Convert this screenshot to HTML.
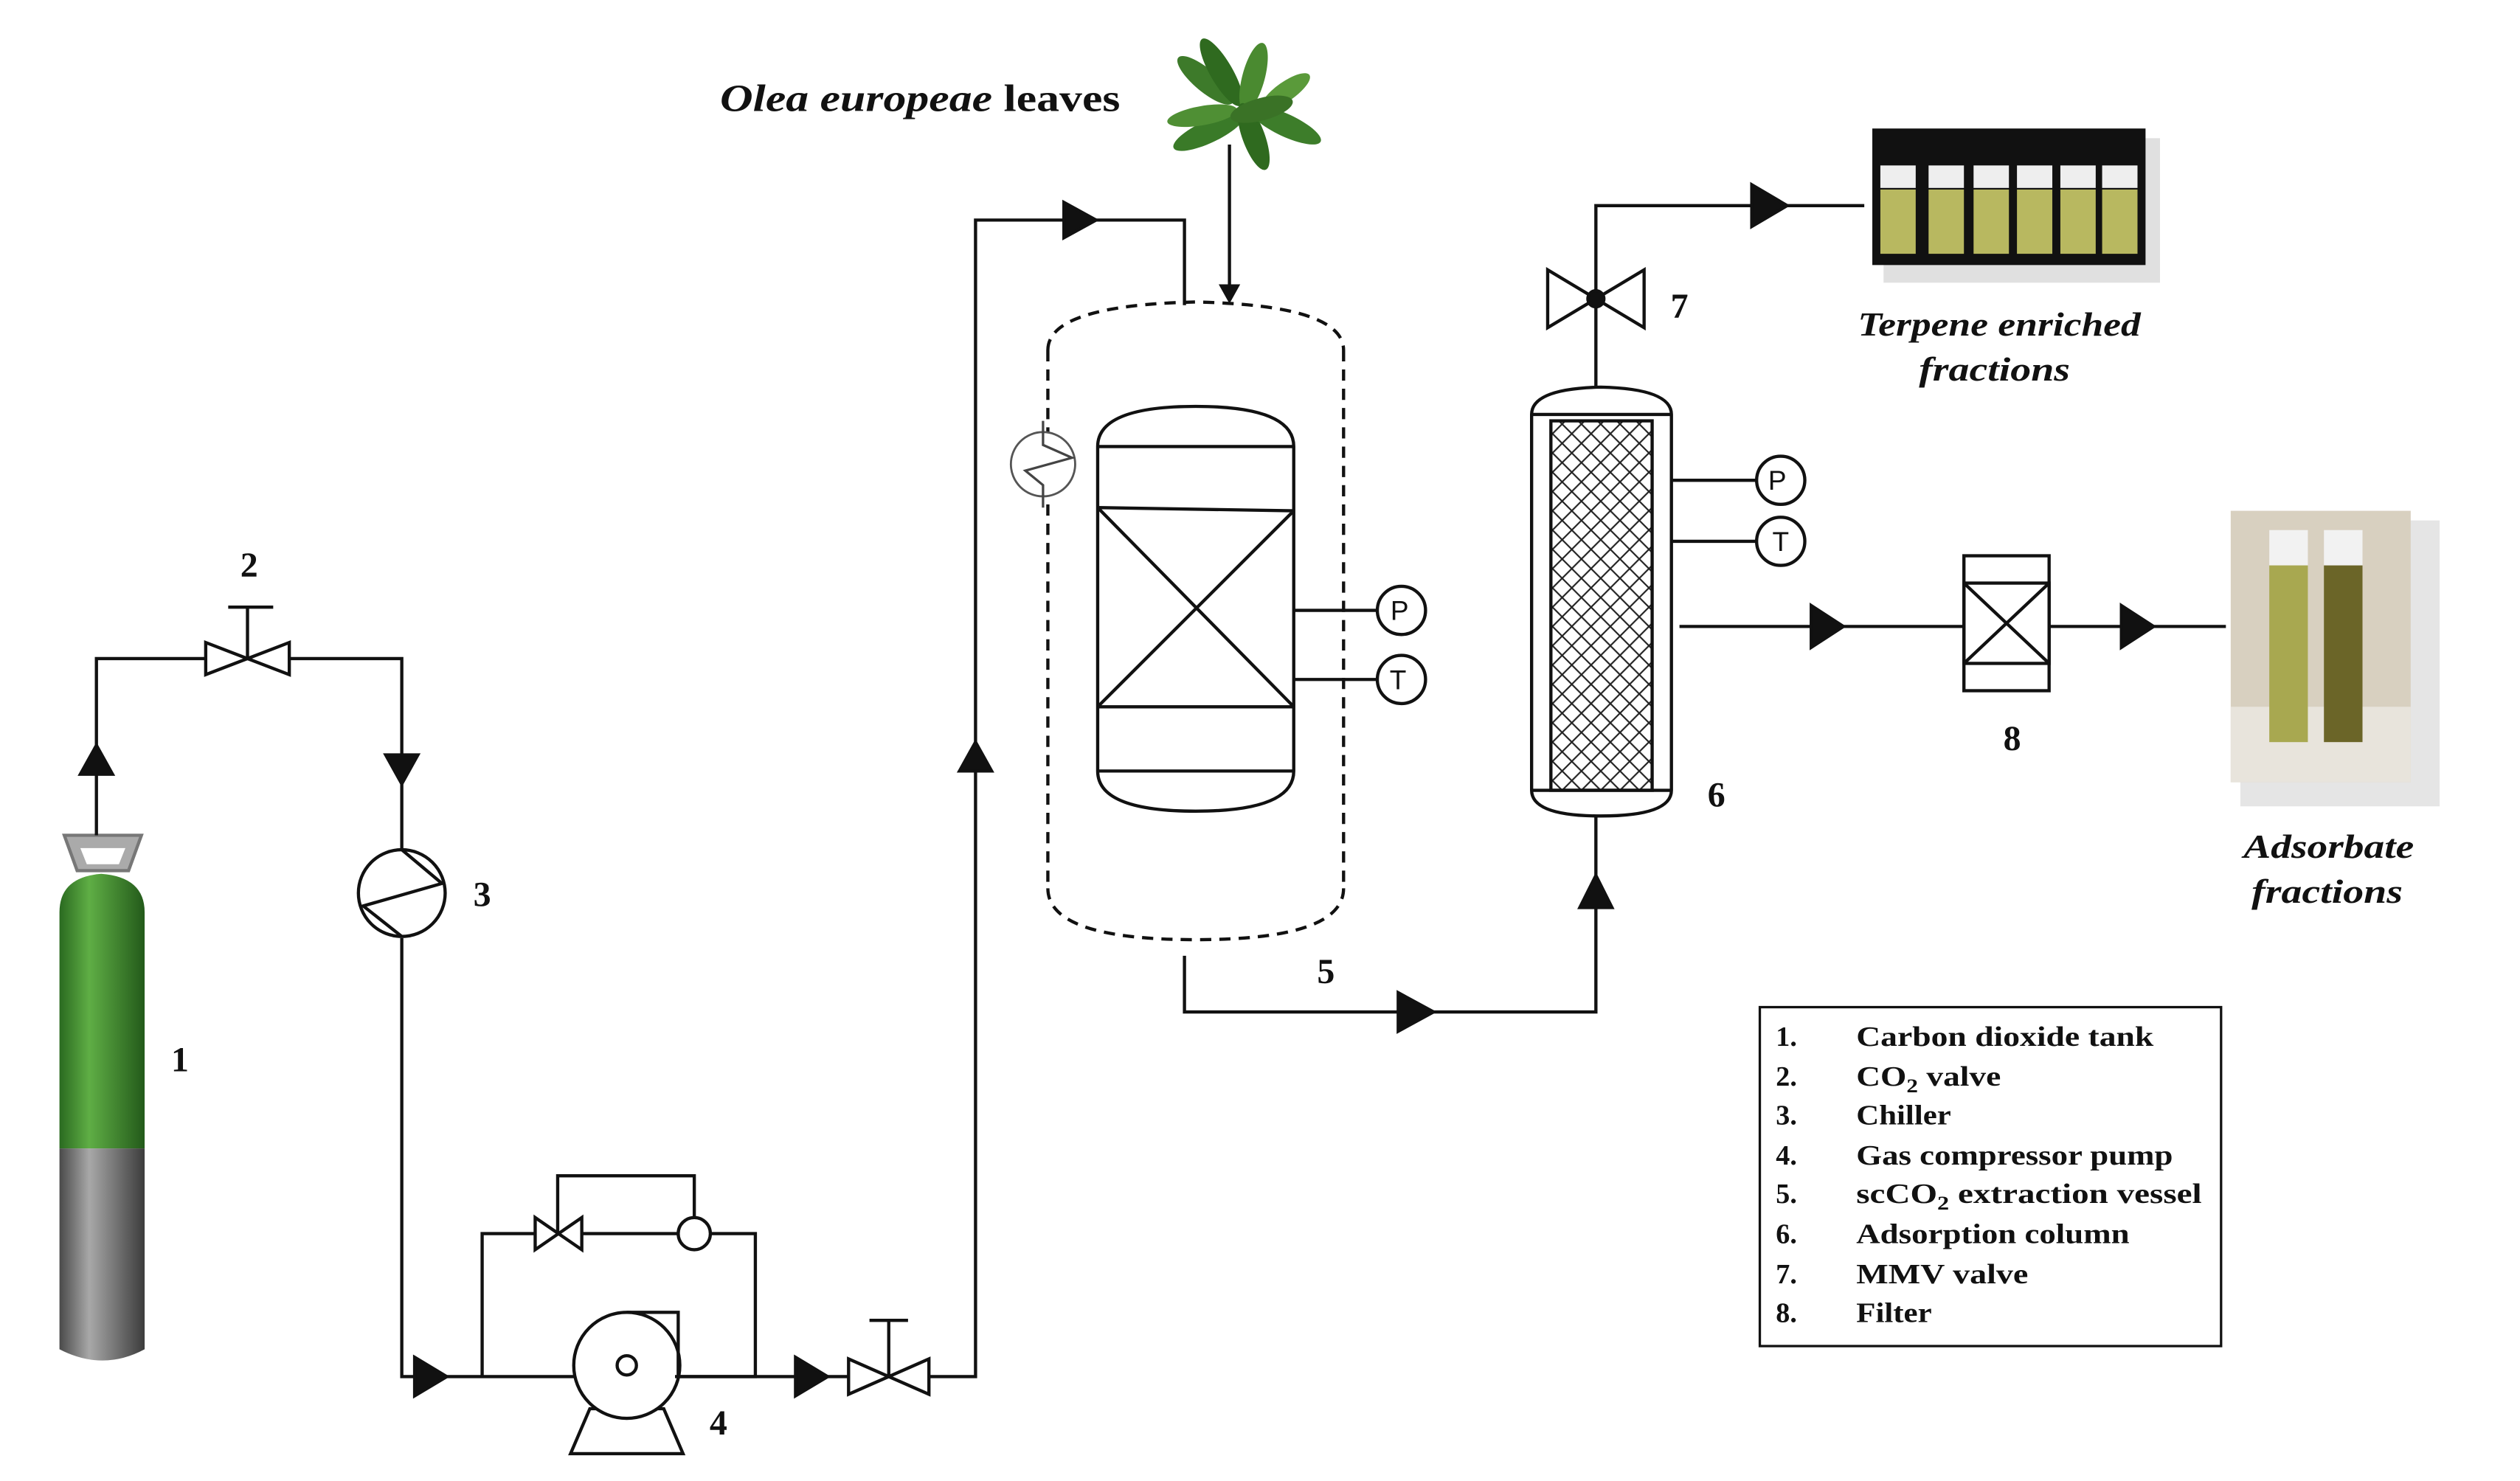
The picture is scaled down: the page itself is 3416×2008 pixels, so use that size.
<!DOCTYPE html>
<html><head><meta charset="utf-8"><style>
html,body{margin:0;padding:0;background:#fff}
svg{display:block}
text{font-family:"Liberation Serif",serif;font-weight:bold;fill:#111}
</style></head><body>
<svg width="3416" height="2008" viewBox="0 0 1568 922" preserveAspectRatio="none" xmlns="http://www.w3.org/2000/svg">
<defs>
<linearGradient id="gr" x1="0" x2="1"><stop offset="0" stop-color="#2a6a20"/><stop offset="0.35" stop-color="#5fae45"/><stop offset="1" stop-color="#235a1a"/></linearGradient>
<linearGradient id="gy" x1="0" x2="1"><stop offset="0" stop-color="#4a4a4a"/><stop offset="0.35" stop-color="#a8a8a8"/><stop offset="1" stop-color="#3c3c3c"/></linearGradient>
<pattern id="hatch" width="12" height="12" patternUnits="userSpaceOnUse"><path d="M0 0L12 12M12 0L0 12" stroke="#222" stroke-width="1"/></pattern>
</defs>
<g stroke="#111" stroke-width="2" fill="none">
<path d="M40 520h48l-8 22h-32z" fill="#aaa" stroke="#777"/>
<path d="M50 528h28l-4 10h-20z" fill="#fff" stroke="none"/>
<path d="M37 568q0-22 26-24q27 2 27 24v147h-53z" fill="url(#gr)" stroke="none"/>
<path d="M37 715h53v125q-26 14-53 0z" fill="url(#gy)" stroke="none"/>
<path d="M60 520V410H128M180 410H250V530"/>
<path d="M128 400v20l52-20v20z" fill="#fff"/>
<path d="M154 410V378M142 378h28"/>
<path d="M50 482l10-18 10 18z" fill="#111"/>
<path d="M240 470l10 18 10-18z" fill="#111"/>
<circle cx="250" cy="556" r="27" fill="#fff"/>
<path d="M250 529L275 550L226 564L250 583"/>
<path d="M250 584V857H300M300 857V768H333M362 768H422M442 768H470V857H420M358 857H300"/>
<path d="M258 845l20 12-20 12z" fill="#111"/>
<path d="M333 758v20l29-20v20z" fill="#fff"/>
<path d="M347 768V732H432V758"/>
<circle cx="432" cy="768" r="10" fill="#fff"/>
<path d="M355 905l12-28h46l12 28z" fill="#fff"/>
<circle cx="390" cy="850" r="33" fill="#fff"/>
<circle cx="390" cy="850" r="6"/>
<path d="M390 817H422V857"/>
<path d="M420 857H528M578 857H607V137H737V190"/>
<path d="M495 845l20 12-20 12z" fill="#111"/>
<path d="M528 846v22l50-22v22z" fill="#fff"/>
<path d="M553 857V822M541 822h24"/>
<path d="M597 480l10-18 10 18z" fill="#111"/>
<path d="M662 126l20 11-20 11z" fill="#111"/>
<path d="M652 218V553M836 218V553M652 218Q652 190 744 188Q836 190 836 218M652 553Q652 585 744 585Q836 585 836 553" stroke-dasharray="7 5"/>
<path d="M683 278Q683 253 744 253Q805 253 805 278V480Q805 505 744 505Q683 505 683 480Z" fill="#fff"/>
<path d="M683 278H805M683 316L805 318M683 440H805M683 480H805M683 316L805 440M805 318L683 440"/>
<path d="M805 380H857M805 423H857"/>
<circle cx="872" cy="380" r="15" fill="#fff"/>
<circle cx="872" cy="423" r="15" fill="#fff"/>
<circle cx="649" cy="289" r="20" fill="#fff" stroke="#555" stroke-width="1.3"/>
<path d="M649 262V277L667 285L638 293L649 302V316" stroke="#444" stroke-width="1.5"/>
<path d="M765 90V180"/>
<path d="M760 178l5 9 5-9z" fill="#111"/>
<path d="M737 595V630H993V505"/>
<path d="M870 618l22 12-22 12z" fill="#111"/>
<path d="M983 565l10-20 10 20z" fill="#111"/>
<path d="M953 258Q953 242 996 241Q1040 242 1040 258V492Q1040 508 996 508Q953 508 953 492Z" fill="#fff"/>
<path d="M953 258H1040M953 492H1040"/>
<rect x="965" y="262" width="63" height="230" fill="url(#hatch)"/>
<path d="M1040 299H1093M1040 337H1093"/>
<circle cx="1108" cy="299" r="15" fill="#fff"/>
<circle cx="1108" cy="337" r="15" fill="#fff"/>
<path d="M1045 390H1222M1275 390H1385"/>
<path d="M1127 377l20 13-20 13z" fill="#111"/>
<path d="M1320 377l20 13-20 13z" fill="#111"/>
<rect x="1222" y="346" width="53" height="84" fill="#fff"/>
<rect x="1222" y="363" width="53" height="50"/>
<path d="M1222 363L1275 413M1275 363L1222 413"/>
<path d="M993 242V128H1160"/>
<path d="M963 168v36l60-36v36z" fill="#fff"/>
<circle cx="993" cy="186" r="5" fill="#111"/>
<path d="M1090 115l22 13-22 13z" fill="#111"/>
<rect x="1095" y="627" width="287" height="211" stroke-width="1.5"/>
</g>
<g>
<ellipse cx="750" cy="50" rx="22" ry="7" transform="rotate(40 750 50)" fill="#3d7a2a"/>
<ellipse cx="760" cy="45" rx="24" ry="7" transform="rotate(60 760 45)" fill="#2f6a1f"/>
<ellipse cx="780" cy="48" rx="22" ry="7" transform="rotate(-75 780 48)" fill="#4a8a30"/>
<ellipse cx="800" cy="57" rx="18" ry="6" transform="rotate(-35 800 57)" fill="#5a9a3a"/>
<ellipse cx="752" cy="82" rx="24" ry="7" transform="rotate(-25 752 82)" fill="#3a7a28"/>
<ellipse cx="748" cy="72" rx="22" ry="6" transform="rotate(-10 748 72)" fill="#4f8f34"/>
<ellipse cx="780" cy="85" rx="22" ry="7" transform="rotate(70 780 85)" fill="#2f6a1f"/>
<ellipse cx="800" cy="78" rx="24" ry="7" transform="rotate(25 800 78)" fill="#3d7d2a"/>
<ellipse cx="785" cy="68" rx="20" ry="7" transform="rotate(-15 785 68)" fill="#3a7226"/>
</g>
<rect x="1172" y="86" width="172" height="90" fill="#ccc" opacity="0.6"/>
<rect x="1165" y="80" width="170" height="85" fill="#111"/>
<g fill="#b8b860">
<rect x="1170" y="118" width="22" height="40"/><rect x="1200" y="118" width="22" height="40"/><rect x="1228" y="118" width="22" height="40"/><rect x="1255" y="118" width="22" height="40"/><rect x="1282" y="118" width="22" height="40"/><rect x="1308" y="118" width="22" height="40"/>
</g>
<g fill="#eee">
<rect x="1170" y="103" width="22" height="14"/><rect x="1200" y="103" width="22" height="14"/><rect x="1228" y="103" width="22" height="14"/><rect x="1255" y="103" width="22" height="14"/><rect x="1282" y="103" width="22" height="14"/><rect x="1308" y="103" width="22" height="14"/>
</g>
<rect x="1394" y="324" width="124" height="178" fill="#ccc" opacity="0.5"/>
<rect x="1388" y="318" width="112" height="169" fill="#d8d0c0"/>
<rect x="1388" y="440" width="112" height="47" fill="#e8e4dc"/>
<rect x="1412" y="330" width="24" height="22" fill="#f2f2f2"/>
<rect x="1412" y="352" width="24" height="110" fill="#a8a850"/>
<rect x="1446" y="330" width="24" height="22" fill="#f2f2f2"/>
<rect x="1446" y="352" width="24" height="110" fill="#6b6528"/>
<text x="448" y="69" font-size="24" textLength="249" lengthAdjust="spacingAndGlyphs"><tspan font-style="italic">Olea europeae</tspan> leaves</text>
<text x="155" y="359" font-size="22" text-anchor="middle">2</text>
<text x="300" y="564" font-size="22" text-anchor="middle">3</text>
<text x="112" y="667" font-size="22" text-anchor="middle">1</text>
<text x="447" y="893" font-size="22" text-anchor="middle">4</text>
<text x="825" y="612" font-size="22" text-anchor="middle">5</text>
<text x="1068" y="502" font-size="22" text-anchor="middle">6</text>
<text x="1045" y="198" font-size="22" text-anchor="middle">7</text>
<text x="1252" y="467" font-size="22" text-anchor="middle">8</text>
<text font-size="17" text-anchor="middle" fill="#111" stroke="none">
<tspan x="873" y="386" font-family="Liberation Sans" font-weight="normal">P</tspan>
<tspan x="872" y="429" font-family="Liberation Sans" font-weight="normal">T</tspan>
<tspan x="1108" y="305" font-family="Liberation Sans" font-weight="normal">P</tspan>
<tspan x="1108" y="343" font-family="Liberation Sans" font-weight="normal">T</tspan>
</text>
<g font-size="21" font-style="italic">
<text x="1156" y="209" textLength="176" lengthAdjust="spacingAndGlyphs">Terpene enriched</text>
<text x="1194" y="237" textLength="94" lengthAdjust="spacingAndGlyphs">fractions</text>
<text x="1396" y="534" textLength="106" lengthAdjust="spacingAndGlyphs">Adsorbate</text>
<text x="1401" y="562" textLength="94" lengthAdjust="spacingAndGlyphs">fractions</text>
</g>
<g font-size="17.5">
<text x="1105" y="651">1.</text><text x="1155" y="651" textLength="185" lengthAdjust="spacingAndGlyphs">Carbon  dioxide  tank</text>
<text x="1105" y="676">2.</text><text x="1155" y="676" textLength="90" lengthAdjust="spacingAndGlyphs">CO<tspan font-size="12" dy="4">2</tspan><tspan dy="-4"> valve</tspan></text>
<text x="1105" y="700">3.</text><text x="1155" y="700" textLength="59" lengthAdjust="spacingAndGlyphs">Chiller</text>
<text x="1105" y="725">4.</text><text x="1155" y="725" textLength="197" lengthAdjust="spacingAndGlyphs">Gas compressor pump</text>
<text x="1105" y="749">5.</text><text x="1155" y="749" textLength="215" lengthAdjust="spacingAndGlyphs">scCO<tspan font-size="12" dy="4">2</tspan><tspan dy="-4"> extraction vessel</tspan></text>
<text x="1105" y="774">6.</text><text x="1155" y="774" textLength="170" lengthAdjust="spacingAndGlyphs">Adsorption  column</text>
<text x="1105" y="799">7.</text><text x="1155" y="799" textLength="107" lengthAdjust="spacingAndGlyphs">MMV valve</text>
<text x="1105" y="823">8.</text><text x="1155" y="823" textLength="47" lengthAdjust="spacingAndGlyphs">Filter</text>
</g>
</svg>
</body></html>
